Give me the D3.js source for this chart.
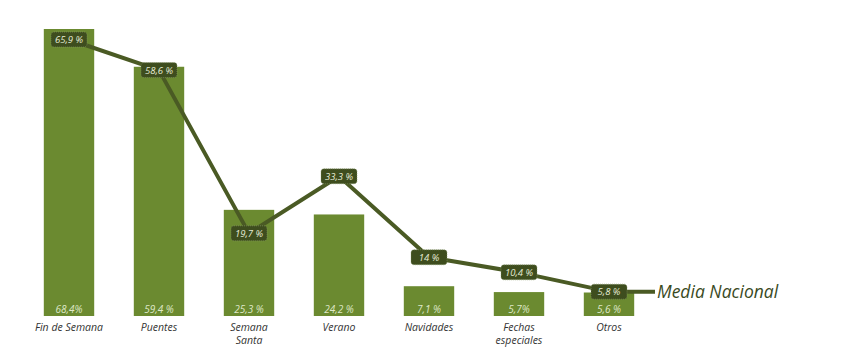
<!DOCTYPE html>
<html><head><meta charset="utf-8">
<script src="https://cdn.jsdelivr.net/npm/d3@7"></script>
<style>body{margin:0;background:#fff}svg{display:block}</style>
</head><body>
<svg id="c" width="850" height="356"></svg>
<script>
const categories = ["Fin de Semana","Puentes","Semana|Santa","Verano","Navidades","Fechas|especiales","Otros"];
const barValues = [68.4, 59.4, 25.3, 24.2, 7.1, 5.7, 5.6];
const barLabels = ["68,4%","59,4 %","25,3 %","24,2 %","7,1 %","5,7%","5,6 %"];
const lineValues = [65.9, 58.6, 19.7, 33.3, 14, 10.4, 5.8];
const lineLabels = ["65,9 %","58,6 %","19,7 %","33,3 %","14 %","10,4 %","5,8  %"];
const seriesName = "Media Nacional";

const svg = d3.select("#c");
const x = d3.scaleBand().domain(categories).range([24, 654]).paddingInner(0.44).paddingOuter(0.22);
const y = d3.scaleLinear().domain([0, 68.4]).range([316, 29]);
const font = "'Open Sans', 'DejaVu Sans', sans-serif";

svg.selectAll("rect.bar").data(barValues).join("rect")
  .attr("class","bar")
  .attr("x",(d,i)=>x(categories[i]))
  .attr("width",x.bandwidth())
  .attr("y",d=>y(d))
  .attr("height",d=>y(0)-y(d))
  .attr("fill","#6b8a30");

svg.selectAll("text.bl").data(barLabels).join("text")
  .attr("class","bl")
  .attr("x",(d,i)=>x(categories[i])+x.bandwidth()/2)
  .attr("y",y(0)-3)
  .attr("text-anchor","middle")
  .attr("font-family",font).attr("font-style","italic").attr("font-size",10)
  .attr("fill","#dfe8c8").text(d=>d);

// category labels: each line as its own text element
const catLines = [];
categories.forEach((d,i)=>d.split("|").forEach((p,k)=>catLines.push({cat:d,text:p,k:k})));
svg.selectAll("text.cat").data(catLines).join("text")
  .attr("class","cat")
  .attr("x",d=>x(d.cat)+x.bandwidth()/2)
  .attr("y",d=>y(0)+15+d.k*13)
  .attr("text-anchor","middle")
  .attr("font-family",font).attr("font-style","italic").attr("font-size",10.5)
  .attr("fill","#333").text(d=>d.text);

const pts = lineValues.map((v,i)=>[x(categories[i])+x.bandwidth()/2, y(v)]);
const lastPt = pts[pts.length-1];
const linePts = pts.concat([[lastPt[0]+46, lastPt[1]]]);
svg.append("path")
  .attr("d", d3.line()(linePts))
  .attr("fill","none").attr("stroke","#4a5a24").attr("stroke-width",4)
  .attr("stroke-linejoin","round");

const g = svg.selectAll("g.pl").data(lineLabels).join("g")
  .attr("class","pl")
  .attr("transform",(d,i)=>`translate(${pts[i][0]},${pts[i][1]})`);
g.append("rect").attr("x",-18).attr("y",-7.5).attr("width",36).attr("height",15).attr("rx",3)
  .attr("fill","#3e4d1e").attr("stroke","#8a9a6a").attr("stroke-width",0.6).attr("stroke-dasharray","1,1");
g.append("text").attr("text-anchor","middle").attr("dy",3.5)
  .attr("font-family",font).attr("font-style","italic").attr("font-size",9.5)
  .attr("fill","#e6ecd6").text(d=>d);

svg.append("text").attr("x",lastPt[0]+48).attr("y",lastPt[1]+6)
  .attr("font-family",font).attr("font-style","italic").attr("font-size",17.5)
  .attr("fill","#3a4a1e").text(seriesName);
</script>
</body></html>
